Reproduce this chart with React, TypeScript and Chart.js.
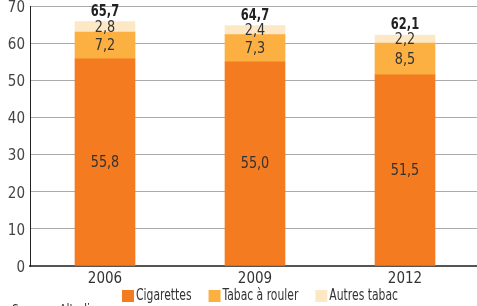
import React, { useEffect, useRef } from "react";
import { Chart, registerables } from "chart.js";

Chart.register(...registerables);

const categories = ["2006", "2009", "2012"];
const cigarettes = [55.8, 55.0, 51.5];
const tabacRouler = [7.2, 7.3, 8.5];
const autresTabac = [2.8, 2.4, 2.2];
const totals = [65.7, 64.7, 62.1];
const seriesNames = ["Cigarettes", "Tabac à rouler", "Autres tabac"];
const seriesColors = ["#F47B20", "#FBB041", "#FDE8C5"];
const yMax = 70;
const yStep = 10;
const sourceText = "Source : Altadis";

const FONT = '"Liberation Sans Narrow", "DejaVu Sans Condensed", "Roboto", sans-serif';
const fmt = (v: number) => v.toFixed(1).replace(".", ",");

// draw text horizontally condensed around an anchor
function drawText(ctx: any, text: string, x: number, y: number, sx: number, align: string) {
  ctx.save();
  ctx.translate(x, y);
  ctx.scale(sx, 1);
  ctx.textAlign = align;
  ctx.fillText(text, 0, 0);
  ctx.restore();
}

const labelsPlugin = {
  id: "customLabels",
  afterDatasetsDraw(chart: any) {
    const ctx = chart.ctx;
    ctx.save();
    ctx.textBaseline = "middle";
    ctx.font = `15px ${FONT}`;
    ctx.fillStyle = "#333";
    chart.data.datasets.forEach((ds: any, di: number) => {
      const meta = chart.getDatasetMeta(di);
      meta.data.forEach((el: any, i: number) => {
        const v = ds.data[i];
        drawText(ctx, fmt(v), el.x, (el.y + el.base) / 2 + 1, 0.95, "center");
      });
    });
    const y = chart.scales.y;
    const top = chart.getDatasetMeta(0);
    ctx.font = `bold 15px ${FONT}`;
    ctx.fillStyle = "#222";
    totals.forEach((t, i) => {
      const x = top.data[i].x;
      drawText(ctx, fmt(t), x, y.getPixelForValue(t) - 10, 0.85, "center");
    });
    ctx.restore();
  },
  afterDraw(chart: any) {
    const ctx = chart.ctx;
    ctx.save();
    ctx.font = `15px ${FONT}`;
    ctx.textBaseline = "middle";
    const sx = 0.8;
    let x = 122;
    const by = 290;
    chart.data.datasets.forEach((ds: any) => {
      ctx.fillStyle = ds.backgroundColor;
      ctx.fillRect(x, by, 12, 12);
      ctx.fillStyle = "#333";
      drawText(ctx, ds.label, x + 14, by + 6.5, sx, "left");
      x += 14 + ctx.measureText(ds.label).width * sx + 17;
    });
    ctx.font = `14px ${FONT}`;
    ctx.textBaseline = "top";
    ctx.fillStyle = "#333";
    drawText(ctx, sourceText, 12, 303, 0.85, "left");
    ctx.restore();
  },
};

export default function App() {
  const ref = useRef<HTMLCanvasElement>(null);
  useEffect(() => {
    if (!ref.current) return;
    const values = [cigarettes, tabacRouler, autresTabac];
    const chart = new Chart(ref.current, {
      type: "bar",
      data: {
        labels: categories,
        datasets: values.map((d, i) => ({
          label: seriesNames[i],
          data: d,
          backgroundColor: seriesColors[i],
          borderWidth: 0,
          barThickness: 60,
        })),
      },
      options: {
        responsive: false,
        animation: false,
        layout: { padding: { top: 6, bottom: 20, left: 0, right: 0 } },
        plugins: { legend: { display: false }, tooltip: { enabled: false } },
        scales: {
          x: {
            stacked: true,
            grid: { display: false, drawTicks: false },
            border: { color: "#555", width: 2 },
            ticks: { color: "#333", font: { family: FONT, size: 15 }, padding: 4 },
            afterFit: (s: any) => {
              s.height = 20;
              s.paddingLeft = 0;
              s.paddingRight = 0;
            },
          },
          y: {
            stacked: true,
            min: 0,
            max: yMax,
            ticks: { stepSize: yStep, color: "#444", font: { family: FONT, size: 15 }, padding: 5, labelOffset: 2 },
            grid: { color: "#aaa", lineWidth: 1, drawTicks: false },
            border: { color: "#222", width: 1 },
            afterFit: (s: any) => {
              s.width = 30;
              s.paddingTop = 0;
              s.paddingBottom = 0;
            },
          },
        },
      },
      plugins: [labelsPlugin],
    });
    return () => chart.destroy();
  }, []);
  return (
    <div style={{ position: "fixed", left: 0, top: 0, width: 477, height: 306, overflow: "hidden", background: "#fff" }}>
      <canvas ref={ref} width={480} height={306} />
    </div>
  );
}
